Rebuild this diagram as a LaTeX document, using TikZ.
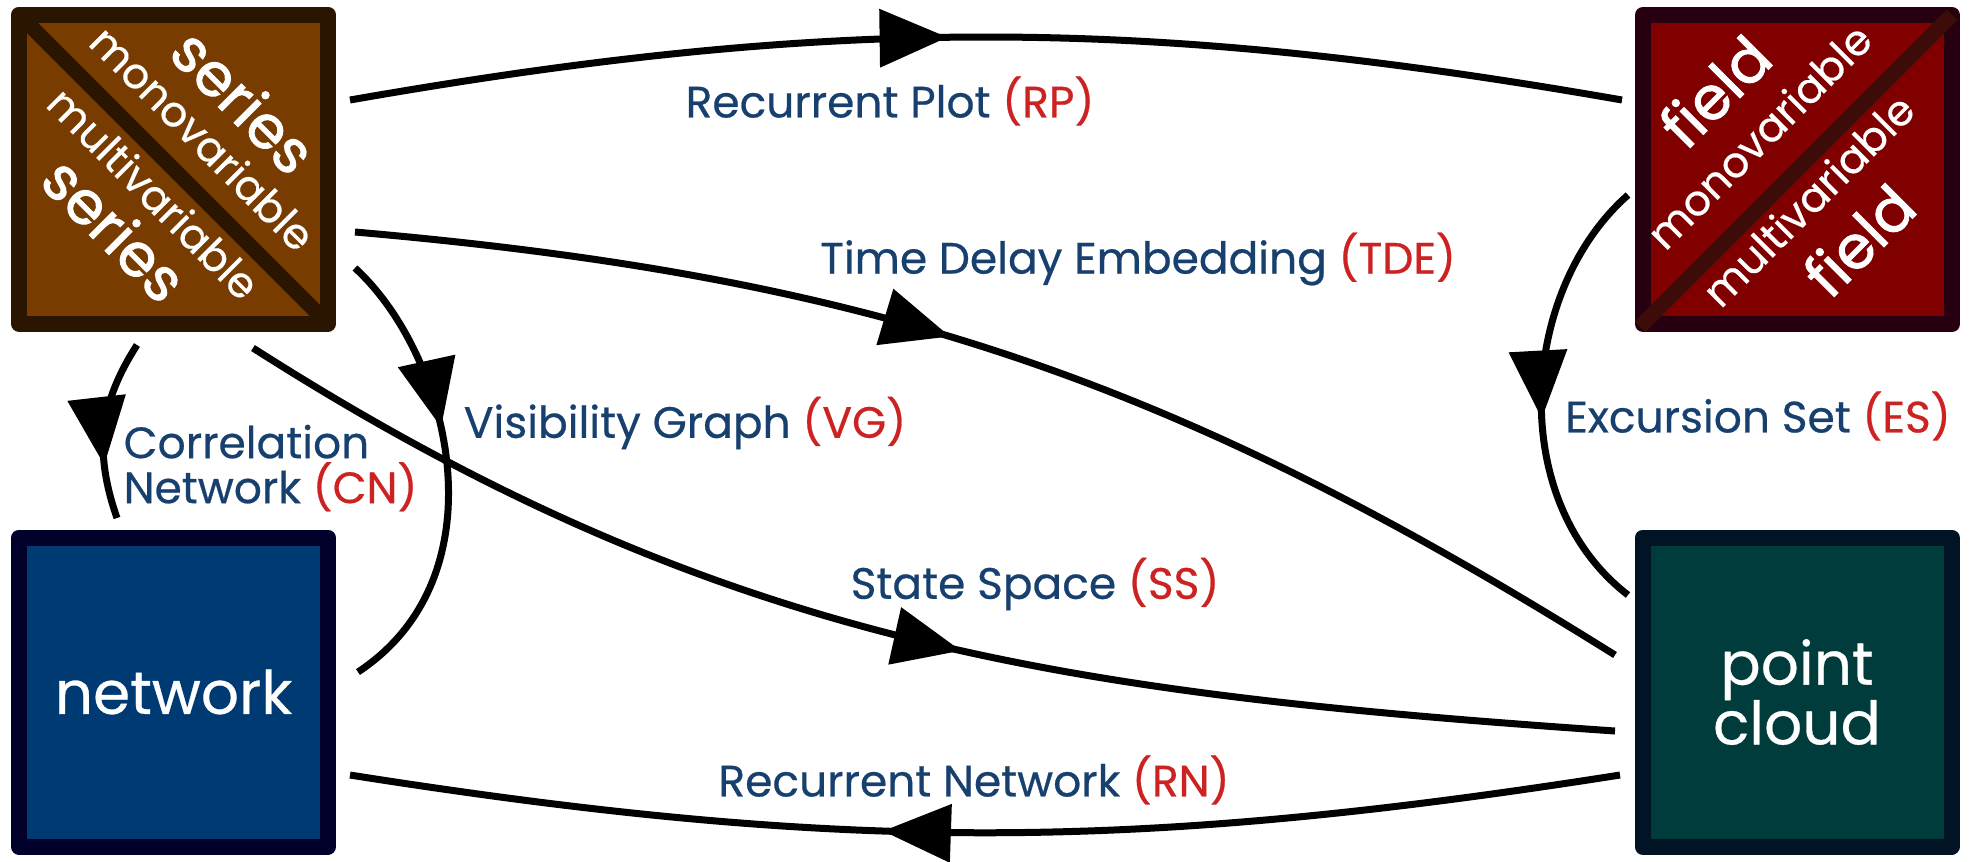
\documentclass[tikz,border=0pt]{standalone}
\usepackage{fontspec}
\setmainfont{Poppins}
\newfontfamily\medfont{Poppins}[FakeBold=0.5]
\newfontfamily\heavyfont{Poppins}[FakeBold=1.6]
\usetikzlibrary{arrows.meta,decorations.markings}

\definecolor{serfill}{HTML}{783C00}
\definecolor{serborder}{HTML}{2A1600}
\definecolor{fldfill}{HTML}{800000}
\definecolor{fldborder}{HTML}{260010}
\definecolor{flddiag}{HTML}{3E0C08}
\definecolor{netfill}{HTML}{003A72}
\definecolor{netborder}{HTML}{00002A}
\definecolor{pcfill}{HTML}{003C3C}
\definecolor{pcborder}{HTML}{001426}
\definecolor{lblblue}{HTML}{17406E}
\definecolor{lblred}{HTML}{CC2222}

\tikzset{
  box/.style={draw, line width=1.6mm, line join=round, minimum size=30.9mm,
    inner sep=0pt, outer sep=0pt, text=white, align=center,
    font=\fontsize{17}{17}\selectfont\medfont},
  bigword/.style={text=white, inner sep=0pt, font=\fontsize{17}{17}\selectfont\heavyfont},
  smallword/.style={text=white, inner sep=0pt, font=\fontsize{12}{12}\selectfont\medfont},
  lbl/.style={text=lblblue, inner sep=0pt, font=\fontsize{12.5}{12.8}\selectfont\medfont},
  conn/.style={line width=0.7mm, postaction=decorate,
    decoration={markings, mark=at position #1 with
      {\arrow{Triangle[length=6.8mm,width=5.7mm]}}}},
}
\newcommand{\abbr}[1]{{\color{lblred}(#1)}}

\begin{document}
\begin{tikzpicture}[x=0.1mm,y=-0.1mm]
\useasboundingbox (0,0) rectangle (1972,861);

% the four boxes
\node[box, draw=serborder, fill=serfill] (series) at (173.5,169) {};
\node[box, draw=fldborder, fill=fldfill] (field) at (1797.5,169.5) {};
\node[box, draw=netborder, fill=netfill] (network) at (173.5,692) {network};
\node[box, draw=pcborder, fill=pcfill] (cloud) at (1797,692) {point\\cloud};

% split boxes
\draw[serborder, line width=1.5mm] (series.north west) -- (series.south east);
\draw[flddiag, line width=1.5mm, shorten <=-0.4mm]
  (field.south west) -- (field.north east);

\node[bigword, rotate=-45] at (244,101) {series};
\node[smallword, rotate=-45] at (203,138) {monovariable};
\node[smallword, rotate=-45] at (154,193) {multivariable};
\node[bigword, rotate=-45] at (115,229) {series};

\node[bigword, rotate=45] at (1715,91) {field};
\node[smallword, rotate=45] at (1759,136) {monovariable};
\node[smallword, rotate=45] at (1808,200) {multivariable};
\node[bigword, rotate=45] at (1859,240) {field};

% transformations
\draw[conn=0.47] ([shift={(22,-69)}]series.east)
  .. controls +(480,-84) and +(-480,-84) .. ([shift={(-21,-69.5)}]field.west);
\draw[conn=0.45] ([shift={(27,63)}]series.east)
  .. controls +(518,45) and +(-441,-276) .. ([shift={(-27.5,-37)}]cloud.west);
\draw[conn=0.54] ([shift={(79.5,24.5)}]series.south)
  .. controls +(465,297) and +(-551,-38) .. ([shift={(-27.5,39)}]cloud.west);
\draw[conn=0.58] ([shift={(-22.5,83)}]cloud.west)
  .. controls +(-489,77) and +(489,77) .. ([shift={(22,83)}]network.east);
\draw[conn=0.7] ([shift={(-36.5,21.5)}]series.south)
  .. controls +(-38,59) and +(-23,-66) .. ([shift={(-56.5,-19.5)}]network.north);
\draw[conn=0.4] ([shift={(27,99)}]series.east)
  .. controls +(95,87) and +(147,-97) .. ([shift={(30,-20)}]network.east);
\draw[conn=0.55] ([shift={(-15,25.5)}]field.west)
  .. controls +(-108,95) and +(-123,-95) .. ([shift={(-14.5,-97)}]cloud.west);

% labels
\node[lbl] (rp) at (890,101) {Recurrent Plot \abbr{RP}};
\node[lbl] (tde) at (1138,259) {Time Delay Embedding \abbr{TDE}};
\node[lbl] (vg) at (685,423) {Visibility Graph \abbr{VG}};
\node[lbl, anchor=west, align=left] (cn) at (123,468) {Correlation\\Network \abbr{CN}};
\node[lbl] (es) at (1758,416) {Excursion Set \abbr{ES}};
\node[lbl] (ss) at (1035,584) {State Space \abbr{SS}};
\node[lbl] (rn) at (974,780) {Recurrent Network \abbr{RN}};
\end{tikzpicture}
\end{document}
